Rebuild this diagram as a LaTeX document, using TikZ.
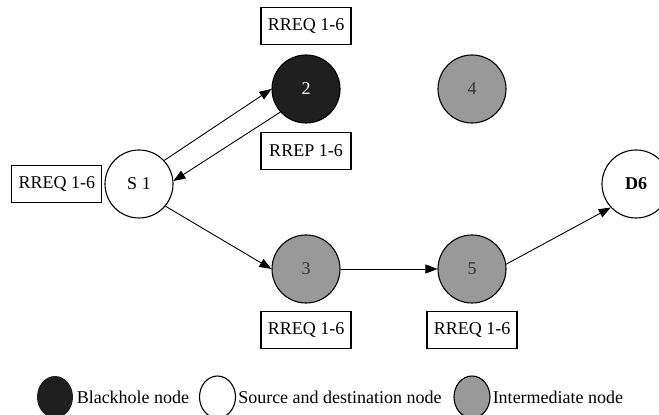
\documentclass[tikz,border=0pt]{standalone}
\usepackage{fontspec}
\setmainfont{Liberation Serif}
\usepackage{xcolor}
\usetikzlibrary{arrows.meta,positioning,shapes.geometric}
\definecolor{hole-black}{gray}{0.12}
\definecolor{relay-gray}{gray}{0.6}
\tikzset{
    net-node/.style = {draw=black, circle, line width=1.1pt, minimum size=68pt, inner sep=0pt, font=\fontsize{18}{20}\selectfont},
    source-node/.style = {net-node, fill=white},
    hole-node/.style = {net-node, fill=hole-black, text=white},
    relay-node/.style = {net-node, fill=relay-gray, text=black!80},
    msg-box/.style = {draw=black, fill=white, line width=1.1pt, rectangle, minimum width=90pt, minimum height=37pt, inner sep=0pt, font=\fontsize{18}{20}\selectfont},
    msg-arrow/.style = {-{Triangle[length=12pt, width=9pt]}, line width=0.9pt},
    key-mark/.style = {ellipse, minimum width=36pt, minimum height=42pt, inner sep=0pt, line width=1.1pt},
    key-text/.style = {inner sep=0pt, font=\fontsize{18}{20}\selectfont},
}

\begin{document}
\begin{tikzpicture}[x=1pt, y=1pt]
\useasboundingbox (0,0) rectangle (659,415);
\node[source-node] (s1) at (139,231) {S 1};
\node[hole-node] (n2) at (306,326) {2};
\node[relay-node] (n3) at (306,146) {3};
\node[relay-node] (n4) at (472,326) {4};
\node[relay-node] (n5) at (472,146) {5};
\node[source-node] (d6) at (636,231) {\textbf{D6}};

\node[msg-box, above=9pt of n2] (req2) {RREQ 1-6};
\node[msg-box, below=8pt of n2] (rep2) {RREP 1-6};
\node[msg-box, left=2pt of s1] (req1) {RREQ 1-6};
\node[msg-box, below=7pt of n3] (req3) {RREQ 1-6};
\node[msg-box, below=7pt of n5] (req5) {RREQ 1-6};

\draw[msg-arrow] (s1.43) -- (n2.west);
\draw[msg-arrow] (n2.222) -- (s1.5);
\draw[msg-arrow] (s1.-40) -- (n3.west);
\draw[msg-arrow] (n3) -- (n5);
\draw[msg-arrow] (n5.8) -- (d6.223);

\node[key-mark, fill=hole-black] (k-hole) at (55,18) {};
\node[key-text, right=3pt of k-hole] (t-hole) {Blackhole node};
\node[key-mark, draw=black, fill=white] (k-end) at (217.5,18) {};
\node[key-text, right=2pt of k-end] (t-end) {Source and destination node};
\node[key-mark, draw=black, fill=relay-gray] (k-relay) at (472,18) {};
\node[key-text, right=2pt of k-relay] (t-relay) {Intermediate node};
\end{tikzpicture}
\end{document}
